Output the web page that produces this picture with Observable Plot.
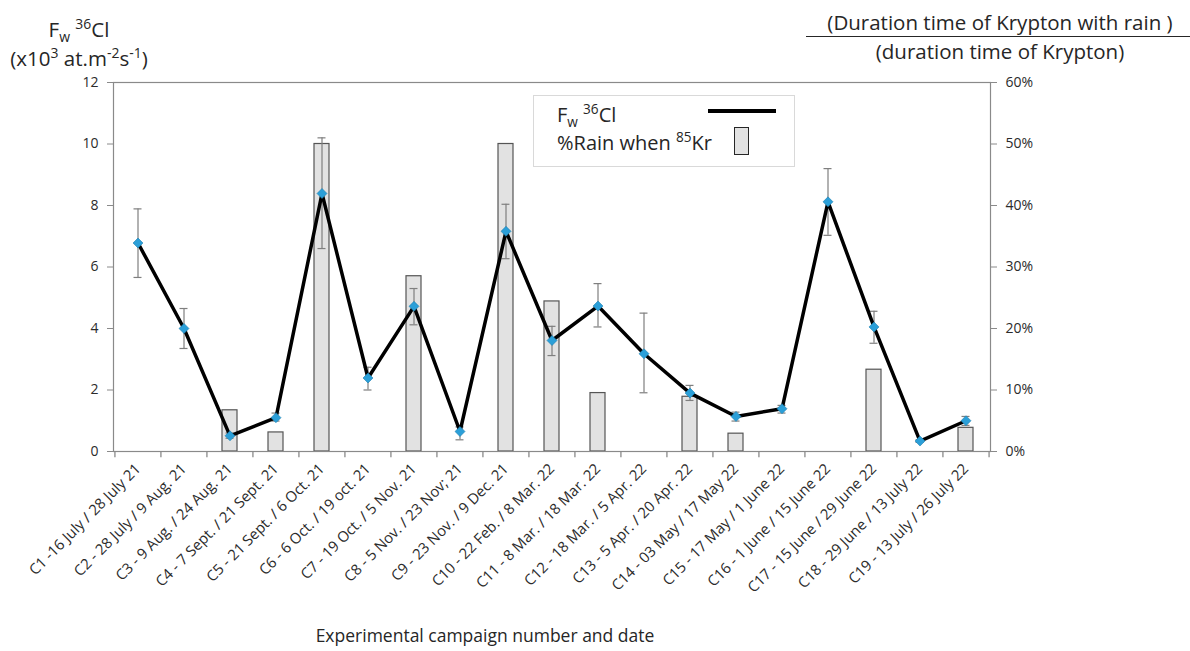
<!DOCTYPE html>
<html><head><meta charset="utf-8">
<script src="https://cdn.jsdelivr.net/npm/d3@7"></script>
<script src="https://cdn.jsdelivr.net/npm/@observablehq/plot@0.6"></script>
<style>
body{margin:0;background:#fff;font-family:"Open Sans",sans-serif;}
#wrap{position:relative;width:1190px;height:651px;overflow:hidden;}
.ov{position:absolute;color:#262626;white-space:nowrap;line-height:1;}
sup,sub{font-size:0.68em;line-height:0;}
</style></head><body>
<div id="wrap">
  <div id="chart"></div>
  <div class="ov" id="lt1" style="left:0;width:158px;top:19px;text-align:center;font-size:20.5px;">F<sub>w</sub> <sup>36</sup>Cl</div>
  <div class="ov" id="lt2" style="left:0;width:158px;top:48px;text-align:center;font-size:20.5px;">(x10<sup>3</sup> at.m<sup>-2</sup>s<sup>-1</sup>)</div>
  <div class="ov" id="rt1" style="left:806px;width:388px;top:12px;text-align:center;font-size:20.5px;">(Duration time of Krypton with rain )</div>
  <div style="position:absolute;left:806px;width:384px;top:36px;height:0;border-top:1.3px solid #262626;"></div>
  <div class="ov" id="rt2" style="left:806px;width:388px;top:41px;text-align:center;font-size:20.5px;">(duration time of Krypton)</div>
  <div class="ov" id="xt" style="left:113px;width:744px;top:627px;text-align:center;font-size:17.5px;">Experimental campaign number and date</div>
  <div id="legend" style="position:absolute;left:533px;top:95px;width:262px;height:72px;border:1.3px solid #d9d9d9;background:#fff;box-sizing:border-box;">
    <div class="ov" style="left:23px;top:9px;font-size:20px;">F<sub>w</sub> <sup>36</sup>Cl</div>
    <div class="ov" style="left:23px;top:37px;font-size:20px;">%Rain when <sup>85</sup>Kr</div>
    <div style="position:absolute;left:174px;top:13px;width:68px;height:3.5px;background:#000;"></div>
    <div style="position:absolute;left:200px;top:31px;width:15px;height:28px;background:#e2e2e2;border:1.5px solid #262626;box-sizing:border-box;"></div>
  </div>
</div>
<script>
const categories = [
  "C1 -16 July / 28 July 21",
  "C2 - 28 July / 9 Aug. 21",
  "C3 - 9 Aug. / 24 Aug. 21",
  "C4 - 7 Sept. / 21 Sept. 21",
  "C5 - 21 Sept. / 6 Oct. 21",
  "C6 - 6 Oct. / 19 oct. 21",
  "C7 - 19 Oct. / 5 Nov. 21",
  "C8 - 5 Nov. / 23 Nov; 21",
  "C9 - 23 Nov. / 9 Dec. 21",
  "C10 - 22 Feb. / 8 Mar. 22",
  "C11 - 8 Mar. / 18 Mar. 22",
  "C12 - 18 Mar. / 5 Apr. 22",
  "C13 - 5 Apr. / 20 Apr. 22",
  "C14 - 03 May / 17 May 22",
  "C15 - 17 May / 1 June 22",
  "C16 - 1 June / 15 June 22",
  "C17 - 15 June / 29 June 22",
  "C18 - 29 June / 13 July 22",
  "C19 - 13 July / 26 July 22"
];
const fw36Cl = [6.78, 4.00, 0.51, 1.10, 8.39, 2.39, 4.72, 0.65, 7.16, 3.61, 4.73, 3.18, 1.90, 1.14, 1.39, 8.12, 4.05, 0.34, 1.00];
const errLow  = [5.66, 3.35, 0.43, 0.99, 6.60, 2.00, 4.12, 0.38, 6.27, 3.12, 4.05, 1.91, 1.66, 0.99, 1.25, 7.03, 3.52, 0.30, 0.85];
const errHigh = [7.89, 4.65, 0.60, 1.25, 10.20, 2.74, 5.30, 0.80, 8.04, 4.07, 5.46, 4.50, 2.15, 1.28, 1.50, 9.20, 4.56, 0.38, 1.14];
const rainPct = [null, null, 6.7, 3.1, 50, null, 28.5, null, 50, 24.4, 9.5, null, 8.9, 2.9, null, null, 13.3, null, 3.85];
const leftTicks = [0, 2, 4, 6, 8, 10, 12];
const rightTicksPct = [0, 10, 20, 30, 40, 50, 60];

const pctPerUnit = 5; // 60% on right axis = 12 on left axis

const rows = categories.map((c, i) => ({cat: c, fw: fw36Cl[i], lo: errLow[i], hi: errHigh[i], rain: rainPct[i]}));
const bars = rows.filter(d => d.rain != null);

const W = 1190, H = 651, mL = 113, mR = 200, mT = 82, mB = 200;
const step = (W - mL - mR) / categories.length;
const axisColor = "#8a8a8a";
const textColor = "#2b2b2b";

const chart = Plot.plot({
  width: W, height: H,
  marginLeft: mL, marginRight: mR, marginTop: mT, marginBottom: mB,
  style: {fontFamily: "Open Sans, sans-serif", fontSize: "13px", color: textColor, background: "#fff", overflow: "visible"},
  x: {type: "band", domain: categories, paddingInner: 0.675, paddingOuter: 0.3375, label: null},
  y: {domain: [0, 12], label: null},
  marks: [
    Plot.barY(bars, {x: "cat", y: d => d.rain / pctPerUnit, fill: "#e2e2e2", stroke: "#555", strokeWidth: 1.2}),
    Plot.frame({stroke: axisColor, strokeWidth: 1.2}),
    Plot.axisY(leftTicks, {anchor: "left", tickSize: 6, tickPadding: 9, stroke: axisColor, fill: textColor, fontSize: 14, label: null}),
    Plot.axisY(rightTicksPct.map(p => p / pctPerUnit), {anchor: "right", tickSize: 6, tickPadding: 9, stroke: axisColor, fill: textColor, fontSize: 14, tickFormat: d => Math.round(d * pctPerUnit) + "%", label: null}),
    Plot.axisX({anchor: "bottom", tickSize: 0, tickPadding: 15, tickRotate: -45, fill: textColor, fontSize: 14.8, label: null}),
    Plot.ruleX(categories, {x: d => d, y1: 0, y2: -0.2, dx: -step / 2, stroke: axisColor, strokeWidth: 1.3, clip: false}),
    Plot.ruleX([categories[categories.length - 1]], {x: d => d, y1: 0, y2: -0.2, dx: step / 2, stroke: axisColor, strokeWidth: 1.3}),
    Plot.ruleX(rows, {x: "cat", y1: "lo", y2: "hi", stroke: "#7f7f7f", strokeWidth: 1.2}),
    Plot.tickY(rows, {x: "cat", y: "hi", insetLeft: 3.5, insetRight: 3.5, stroke: "#7f7f7f", strokeWidth: 1.2}),
    Plot.tickY(rows, {x: "cat", y: "lo", insetLeft: 3.5, insetRight: 3.5, stroke: "#7f7f7f", strokeWidth: 1.2}),
    Plot.line(rows, {x: "cat", y: "fw", stroke: "#000", strokeWidth: 3.5, strokeLinejoin: "miter"}),
    Plot.dot(rows, {x: "cat", y: "fw", symbol: "diamond2", r: 4.5, fill: "#2b9fd8", stroke: "#1f7fb0", strokeWidth: 0.6})
  ]
});
document.getElementById("chart").appendChild(chart);
</script>
</body></html>
